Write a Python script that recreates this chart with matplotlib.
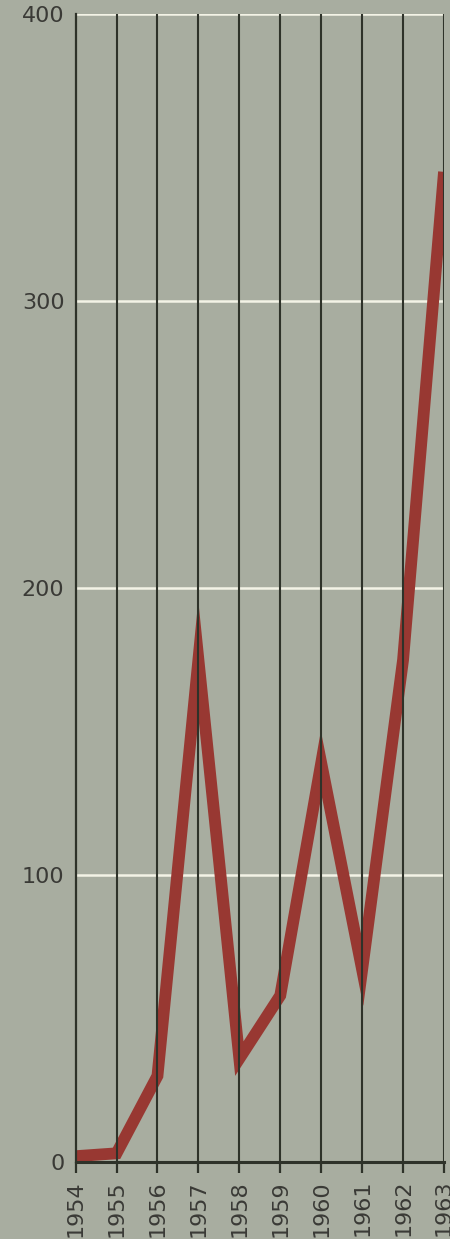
from matplotlib import pyplot as plt

years = [1954, 1955, 1956, 1957, 1958, 1959, 1960, 1961, 1962, 1963]
values = [2, 3, 30, 175, 36, 58, 139, 67, 175, 345]
yticks = [0, 100, 200, 300, 400]

paper = '#a8ada0'
ink = '#2e3229'
red = '#983832'

fig = plt.figure(figsize=(4.5, 12.39), dpi=100)
fig.patch.set_facecolor(paper)
ax = fig.add_axes([0.168, 0.0622, 0.8187, 0.9265])
ax.set_facecolor(paper)

# white horizontal rules behind everything
for y in yticks[1:]:
  ax.axhline(y, color='#f3f3e6', lw=1.8, zorder=1)

ax.plot(years, values, color=red, lw=8.5, solid_joinstyle='miter',
        solid_capstyle='butt', zorder=2)

# dark vertical year lines on top of the curve
for x in years[1:]:
  ax.axvline(x, color=ink, lw=1.5, zorder=3)

ax.set_xlim(1954, 1963)
ax.set_ylim(0, 400)
ax.set_xticks(years)
ax.set_xticklabels([str(y) for y in years], rotation=90, fontsize=16, color='#3a3a36')
ax.set_yticks(yticks)
ax.set_yticklabels([str(y) for y in yticks], fontsize=16, color='#3a3a36')
ax.tick_params(axis='y', length=0, pad=8)
ax.tick_params(axis='x', length=8, width=1.6, color=ink, pad=5)

for side in ['top', 'right']:
  ax.spines[side].set_visible(False)
ax.spines['left'].set_color(ink)
ax.spines['left'].set_linewidth(1.6)
ax.spines['bottom'].set_color(ink)
ax.spines['bottom'].set_linewidth(2.2)
ax.spines['left'].set_zorder(4)
ax.spines['bottom'].set_zorder(4)

fig.savefig('out.png', dpi=100, facecolor=paper)
